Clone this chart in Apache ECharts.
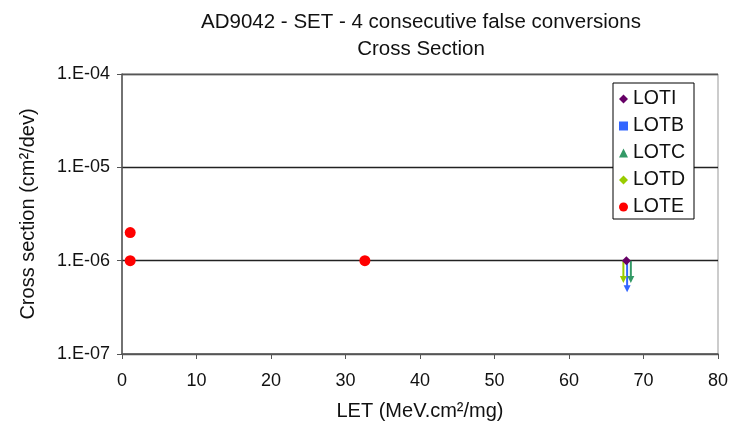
<!DOCTYPE html>
<html>
<head>
<meta charset="utf-8">
<script src="https://cdn.jsdelivr.net/npm/echarts@6/dist/echarts.min.js"></script>
<style>
html,body{margin:0;padding:0;background:#fff;}
#c{width:733px;height:428px;}
</style>
</head>
<body>
<div id="c"></div>
<script>
const titleLines = ['AD9042 - SET - 4 consecutive false conversions', 'Cross Section'];
const xAxisName = 'LET (MeV.cm²/mg)';
const yAxisName = 'Cross section (cm²/dev)';
const yTickLabels = ['1.E-07', '1.E-06', '1.E-05', '1.E-04'];
const lotNames = ['LOTI', 'LOTB', 'LOTC', 'LOTD', 'LOTE'];
const lotColors = ['#660066', '#3366ff', '#339966', '#99cc00', '#ff0000'];
const lotIcons = ['diamond', 'rect', 'triangle', 'diamond', 'circle'];
// measured points
const lotI = [[67.7, 1e-6]];
const lotE = [[1.1, 1e-6], [1.1, 2e-6], [32.6, 1e-6]];
// upper-limit arrows: start and arrow-head points
const lotB = [[67.8, 1e-6], [67.8, 5.0e-7]];
const lotC = [[68.3, 1e-6], [68.3, 6.3e-7]];
const lotD = [[67.3, 1e-6], [67.3, 6.3e-7]];

const FONT = 'Liberation Sans, Arial, sans-serif';
const chart = echarts.init(document.getElementById('c'), null, {renderer: 'canvas'});

function arrowSeries(name, data, color) {
  return {
    name: name, type: 'line', data: data, z: 3,
    lineStyle: {color: color, width: 2},
    itemStyle: {color: color, opacity: 1},
    symbol: function (v, p) { return p.dataIndex === 1 ? 'triangle' : 'none'; },
    symbolSize: [7, 7], symbolRotate: 180, showSymbol: true,
    animation: false
  };
}

chart.setOption({
  animation: false,
  title: {
    text: titleLines.join('\n'), left: 416, textAlign: 'center', top: 4,
    textStyle: {fontFamily: FONT, fontSize: 20.5, fontWeight: 'normal', color: '#111', lineHeight: 27}
  },
  grid: {left: 122, right: 15, top: 74, bottom: 74, show: true, borderColor: '#999', borderWidth: 1},
  legend: {
    orient: 'vertical', left: 613, top: 83,
    data: lotNames.map((n, i) => ({name: n, icon: lotIcons[i]})),
    itemWidth: 9, itemHeight: 9, itemGap: 7,
    padding: [6, 9, 2, 6],
    borderColor: '#000', borderWidth: 1, backgroundColor: '#fff',
    textStyle: {fontFamily: FONT, fontSize: 19.5, color: '#111', lineHeight: 20}
  },
  xAxis: {
    type: 'value', min: 0, max: 80, interval: 10,
    name: xAxisName, nameLocation: 'middle', nameGap: 47,
    nameTextStyle: {fontFamily: FONT, fontSize: 20, color: '#111'},
    axisLine: {lineStyle: {color: '#555', width: 1.5}},
    axisTick: {show: true, inside: false, length: 5, lineStyle: {color: '#555'}},
    axisLabel: {fontFamily: FONT, fontSize: 18, color: '#111', margin: 18},
    splitLine: {show: false}
  },
  yAxis: {
    type: 'log', logBase: 10, min: 1e-7, max: 1e-4,
    name: yAxisName, nameLocation: 'middle', nameGap: 84,
    nameTextStyle: {fontFamily: FONT, fontSize: 20, color: '#111'},
    axisLine: {show: true, lineStyle: {color: '#555', width: 1.5}},
    axisTick: {show: true, inside: false, length: 5, lineStyle: {color: '#555'}},
    axisLabel: {
      fontFamily: FONT, fontSize: 18, color: '#111', margin: 12,
      formatter: function (v, i) { return yTickLabels[i]; }
    },
    splitLine: {show: true, lineStyle: {color: ['#555', '#222', '#222', '#999'], width: 1.3}}
  },
  series: [
    {name: 'LOTI', type: 'scatter', data: lotI, symbol: 'diamond', symbolSize: 9, z: 5,
     itemStyle: {color: lotColors[0], opacity: 1}},
    arrowSeries('LOTB', lotB, lotColors[1]),
    arrowSeries('LOTC', lotC, lotColors[2]),
    arrowSeries('LOTD', lotD, lotColors[3]),
    {name: 'LOTE', type: 'scatter', data: lotE, symbol: 'circle', symbolSize: 11, z: 5,
     itemStyle: {color: lotColors[4], opacity: 1}}
  ]
});
</script>
</body>
</html>
